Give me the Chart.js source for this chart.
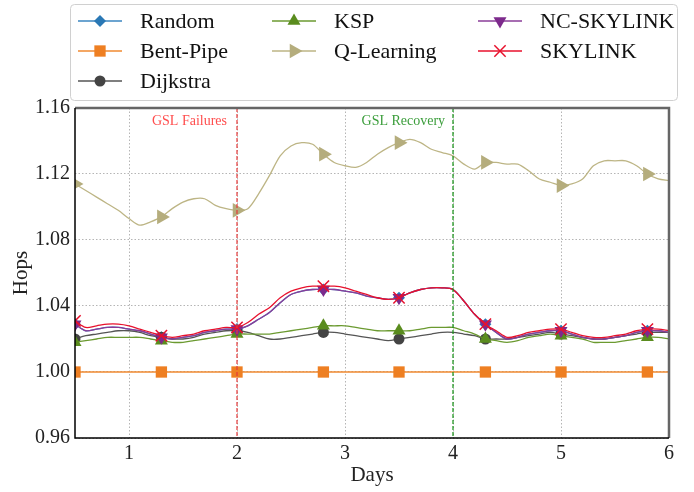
<!DOCTYPE html>
<html lang="en">
<head>
    <meta charset="UTF-8">
    <title>Hops over Days</title>
    <style>
        body { margin: 0; background: #fff; }
        #wrap { width: 694px; height: 492px; }
    </style>
    <script src="https://cdn.jsdelivr.net/npm/chart.js"></script>
</head>
<body>
    <div id="wrap"><canvas id="hopsChart" width="694" height="492"></canvas></div>

    <script>
        // days sampled every 0.1 from 0.5 to 6
        const days = [0.5,0.6,0.7,0.8,0.9,1.0,1.1,1.2,1.3,1.4,1.5,1.6,1.7,1.8,1.9,2.0,2.1,2.2,2.3,2.4,2.5,2.6,2.7,2.8,2.9,3.0,
            3.1,3.2,3.3,3.4,3.5,3.6,3.7,3.8,3.9,4.0,4.1,4.2,4.3,4.4,4.5,4.6,4.7,4.8,4.9,5.0,5.1,5.2,5.3,5.4,5.5,5.6,5.7,5.8,5.9,6.0];
        const xTicks = [1, 2, 3, 4, 5, 6];
        const yTicks = [0.96, 1.00, 1.04, 1.08, 1.12, 1.16];
        // indices of the points that carry a marker
        const markerIdx = [0, 8, 15, 23, 30, 38, 45, 53];

        const randomHops = [1.029,1.025,1.026,1.027,1.027,1.026,1.025,1.023,1.021,1.020,1.021,1.022,1.024,1.025,1.026,1.026,
            1.028,1.032,1.036,1.042,1.047,1.049,1.050,1.050,1.050,1.049,1.048,1.046,1.045,1.044,1.045,1.048,1.050,1.051,1.051,1.050,
            1.043,1.035,1.029,1.024,1.020,1.021,1.023,1.024,1.025,1.025,1.023,1.021,1.020,1.020,1.021,1.022,1.024,1.025,1.025,1.024];
        const bentPipeHops = [1.000,1.000,1.000,1.000,1.000,1.000,1.000,1.000,1.000,1.000,1.000,1.000,1.000,1.000,1.000,1.000,
            1.000,1.000,1.000,1.000,1.000,1.000,1.000,1.000,1.000,1.000,1.000,1.000,1.000,1.000,1.000,1.000,1.000,1.000,1.000,1.000,
            1.000,1.000,1.000,1.000,1.000,1.000,1.000,1.000,1.000,1.000,1.000,1.000,1.000,1.000,1.000,1.000,1.000,1.000,1.000,1.000];
        const dijkstraHops = [1.020,1.022,1.023,1.024,1.025,1.025,1.024,1.022,1.021,1.020,1.020,1.021,1.023,1.024,1.025,1.025,
            1.024,1.022,1.020,1.020,1.021,1.022,1.023,1.024,1.024,1.023,1.022,1.021,1.020,1.019,1.020,1.021,1.022,1.023,1.024,1.024,
            1.023,1.022,1.020,1.020,1.020,1.021,1.022,1.023,1.024,1.023,1.022,1.021,1.020,1.020,1.021,1.022,1.023,1.024,1.024,1.024];
        const kspHops = [1.018,1.019,1.020,1.021,1.021,1.021,1.021,1.020,1.019,1.018,1.018,1.019,1.020,1.021,1.022,1.023,
            1.023,1.023,1.023,1.024,1.025,1.026,1.027,1.028,1.028,1.028,1.027,1.026,1.025,1.025,1.025,1.025,1.026,1.027,1.027,1.027,
            1.025,1.023,1.020,1.019,1.018,1.019,1.021,1.022,1.023,1.022,1.021,1.020,1.018,1.018,1.018,1.019,1.020,1.021,1.021,1.020];
        const qLearningHops = [1.114,1.110,1.106,1.102,1.098,1.093,1.089,1.091,1.094,1.099,1.103,1.105,1.105,1.101,1.099,1.098,
            1.099,1.108,1.119,1.131,1.137,1.139,1.138,1.132,1.127,1.125,1.124,1.127,1.132,1.136,1.139,1.141,1.139,1.135,1.133,1.131,
            1.126,1.123,1.127,1.127,1.126,1.126,1.122,1.117,1.115,1.113,1.114,1.117,1.125,1.128,1.128,1.128,1.125,1.120,1.117,1.116];
        const ncSkylinkHops = [1.029,1.025,1.026,1.027,1.027,1.026,1.025,1.023,1.021,1.020,1.021,1.022,1.024,1.025,1.026,1.026,
            1.028,1.032,1.036,1.042,1.047,1.049,1.050,1.050,1.050,1.049,1.048,1.046,1.045,1.044,1.045,1.048,1.050,1.051,1.051,1.050,
            1.043,1.035,1.029,1.024,1.020,1.021,1.023,1.024,1.025,1.025,1.023,1.021,1.020,1.020,1.021,1.022,1.024,1.025,1.025,1.024];
        const skylinkHops = [1.031,1.027,1.028,1.029,1.029,1.028,1.026,1.024,1.022,1.021,1.022,1.023,1.025,1.026,1.027,1.027,
            1.030,1.035,1.039,1.045,1.049,1.051,1.052,1.052,1.052,1.051,1.049,1.047,1.045,1.044,1.045,1.048,1.050,1.051,1.051,1.050,
            1.043,1.035,1.029,1.025,1.021,1.022,1.024,1.025,1.026,1.026,1.024,1.022,1.021,1.021,1.022,1.023,1.025,1.026,1.026,1.025];

        const FONT = "'Liberation Serif', 'DejaVu Serif', serif";

        const series = [
            { label: 'Random', data: randomHops, line: '#3b86c0', fill: '#2a78b5', style: 'rectRot', radius: 6, rot: 0 },
            { label: 'Bent-Pipe', data: bentPipeHops, line: '#f08a30', fill: '#ee7f22', style: 'rect', radius: 8, rot: 0 },
            { label: 'Dijkstra', data: dijkstraHops, line: '#555555', fill: '#444444', style: 'circle', radius: 5.5, rot: 0 },
            { label: 'KSP', data: kspHops, line: '#6b9a30', fill: '#5a8c1e', style: 'triangle', radius: 7.5, rot: 0 },
            { label: 'Q-Learning', data: qLearningHops, line: '#bdb585', fill: '#b5ad7d', style: 'triangle', radius: 8.5, rot: 90 },
            { label: 'NC-SKYLINK', data: ncSkylinkHops, line: '#8a3c98', fill: '#7d2a8c', style: 'triangle', radius: 7.5, rot: 180 },
            { label: 'SKYLINK', data: skylinkHops, line: '#e8112d', fill: '#e8112d', style: 'crossRot', radius: 8, rot: 0 }
        ];

        function makeDataset(s, i) {
            return {
                label: s.label,
                data: days.map((d, k) => ({ x: d, y: s.data[k] })),
                borderColor: s.line,
                backgroundColor: s.fill,
                pointBackgroundColor: s.fill,
                pointBorderColor: s.fill,
                pointBorderWidth: s.style === 'crossRot' ? 1.5 : 0,
                pointStyle: s.style,
                pointRotation: s.rot,
                pointRadius: ctx => markerIdx.includes(ctx.dataIndex) ? s.radius : 0,
                pointHoverRadius: ctx => markerIdx.includes(ctx.dataIndex) ? s.radius : 0,
                borderWidth: 1.3,
                tension: 0.3,
                fill: false,
                order: series.length - i
            };
        }

        // legend, event lines, frame
        const decorations = {
            id: 'decorations',
            afterDatasetsDraw(chart) {
                const { ctx, chartArea: a, scales: { x } } = chart;
                ctx.save();
                ctx.lineWidth = 1.2;
                ctx.setLineDash([4, 2]);
                ctx.strokeStyle = '#e53a3a';
                let px = x.getPixelForValue(2);
                ctx.beginPath(); ctx.moveTo(px, a.top); ctx.lineTo(px, a.bottom); ctx.stroke();
                ctx.strokeStyle = '#139013';
                px = x.getPixelForValue(4);
                ctx.beginPath(); ctx.moveTo(px, a.top); ctx.lineTo(px, a.bottom); ctx.stroke();
                ctx.setLineDash([]);
                ctx.font = '14px ' + FONT;
                ctx.textAlign = 'center';
                ctx.textBaseline = 'middle';
                ctx.fillStyle = '#ff4d4d';
                ctx.fillText('GSL Failures', x.getPixelForValue(1.56), a.top + 13);
                ctx.fillStyle = '#3c9e3c';
                ctx.fillText('GSL Recovery', x.getPixelForValue(3.54), a.top + 13);
                ctx.restore();
            },
            afterDraw(chart) {
                const { ctx, chartArea: a } = chart;
                ctx.save();
                // frame
                ctx.strokeStyle = '#666';
                ctx.lineWidth = 2.5;
                ctx.beginPath();
                ctx.moveTo(a.left, a.top); ctx.lineTo(a.right, a.top); ctx.lineTo(a.right, a.bottom);
                ctx.stroke();
                ctx.strokeStyle = '#000';
                ctx.lineWidth = 1.5;
                ctx.beginPath();
                ctx.moveTo(a.left, a.top); ctx.lineTo(a.left, a.bottom); ctx.lineTo(a.right, a.bottom);
                ctx.stroke();

                // legend box
                ctx.fillStyle = '#fff';
                ctx.strokeStyle = '#d0d0d0';
                ctx.lineWidth = 1;
                ctx.beginPath();
                ctx.roundRect(70.5, 4.5, 607, 96, 4);
                ctx.fill(); ctx.stroke();

                const colX = [78, 272, 478];
                const rowY = [21, 51, 81];
                const layout = [[0, 0], [0, 1], [0, 2], [1, 0], [1, 1], [2, 0], [2, 1]];
                ctx.font = '22px ' + FONT;
                ctx.textBaseline = 'middle';
                ctx.textAlign = 'left';
                series.forEach((s, i) => {
                    const x0 = colX[layout[i][0]];
                    const y0 = rowY[layout[i][1]];
                    ctx.strokeStyle = s.line;
                    ctx.lineWidth = 1.3;
                    ctx.beginPath(); ctx.moveTo(x0, y0); ctx.lineTo(x0 + 44, y0); ctx.stroke();
                    ctx.fillStyle = s.fill;
                    ctx.strokeStyle = s.fill;
                    ctx.lineWidth = s.style === 'crossRot' ? 1.5 : 0;
                    Chart.helpers.drawPoint(ctx, {
                        pointStyle: s.style, radius: s.radius, rotation: s.rot,
                        borderWidth: s.style === 'crossRot' ? 1.5 : 0
                    }, x0 + 22, y0);
                    ctx.fillStyle = '#111';
                    ctx.fillText(s.label, x0 + 62, y0 + 1);
                });
                ctx.restore();
            }
        };

        const ctx = document.getElementById('hopsChart').getContext('2d');
        new Chart(ctx, {
            type: 'line',
            data: { datasets: series.map(makeDataset) },
            options: {
                responsive: false,
                animation: false,
                events: [],
                layout: { padding: { top: 108, right: 25, left: 0, bottom: 0 } },
                plugins: { legend: { display: false }, tooltip: { enabled: false } },
                scales: {
                    x: {
                        type: 'linear',
                        min: 0.5,
                        max: 6,
                        afterBuildTicks: scale => { scale.ticks = xTicks.map(v => ({ value: v })); },
                        afterFit: scale => { scale.height = 54; },
                        ticks: { color: '#222', font: { family: FONT, size: 20 }, padding: 4 },
                        grid: { color: '#b5b5b5', lineWidth: 1, drawTicks: false },
                        border: { display: false, dash: [1.5, 2] },
                        title: { display: true, text: 'Days', color: '#222', font: { family: FONT, size: 21 }, padding: { top: 4, bottom: 4 } }
                    },
                    y: {
                        min: 0.96,
                        max: 1.16,
                        afterBuildTicks: scale => { scale.ticks = yTicks.map(v => ({ value: v })); },
                        afterFit: scale => { scale.width = 75; },
                        ticks: { color: '#222', font: { family: FONT, size: 20 }, padding: 5, callback: v => v.toFixed(2) },
                        grid: { color: '#b5b5b5', lineWidth: 1, drawTicks: false },
                        border: { display: false, dash: [1.5, 2] },
                        title: { display: true, text: 'Hops', color: '#222', font: { family: FONT, size: 21 }, padding: { top: 9, bottom: 9 } }
                    }
                }
            },
            plugins: [decorations]
        });
    </script>
</body>
</html>
